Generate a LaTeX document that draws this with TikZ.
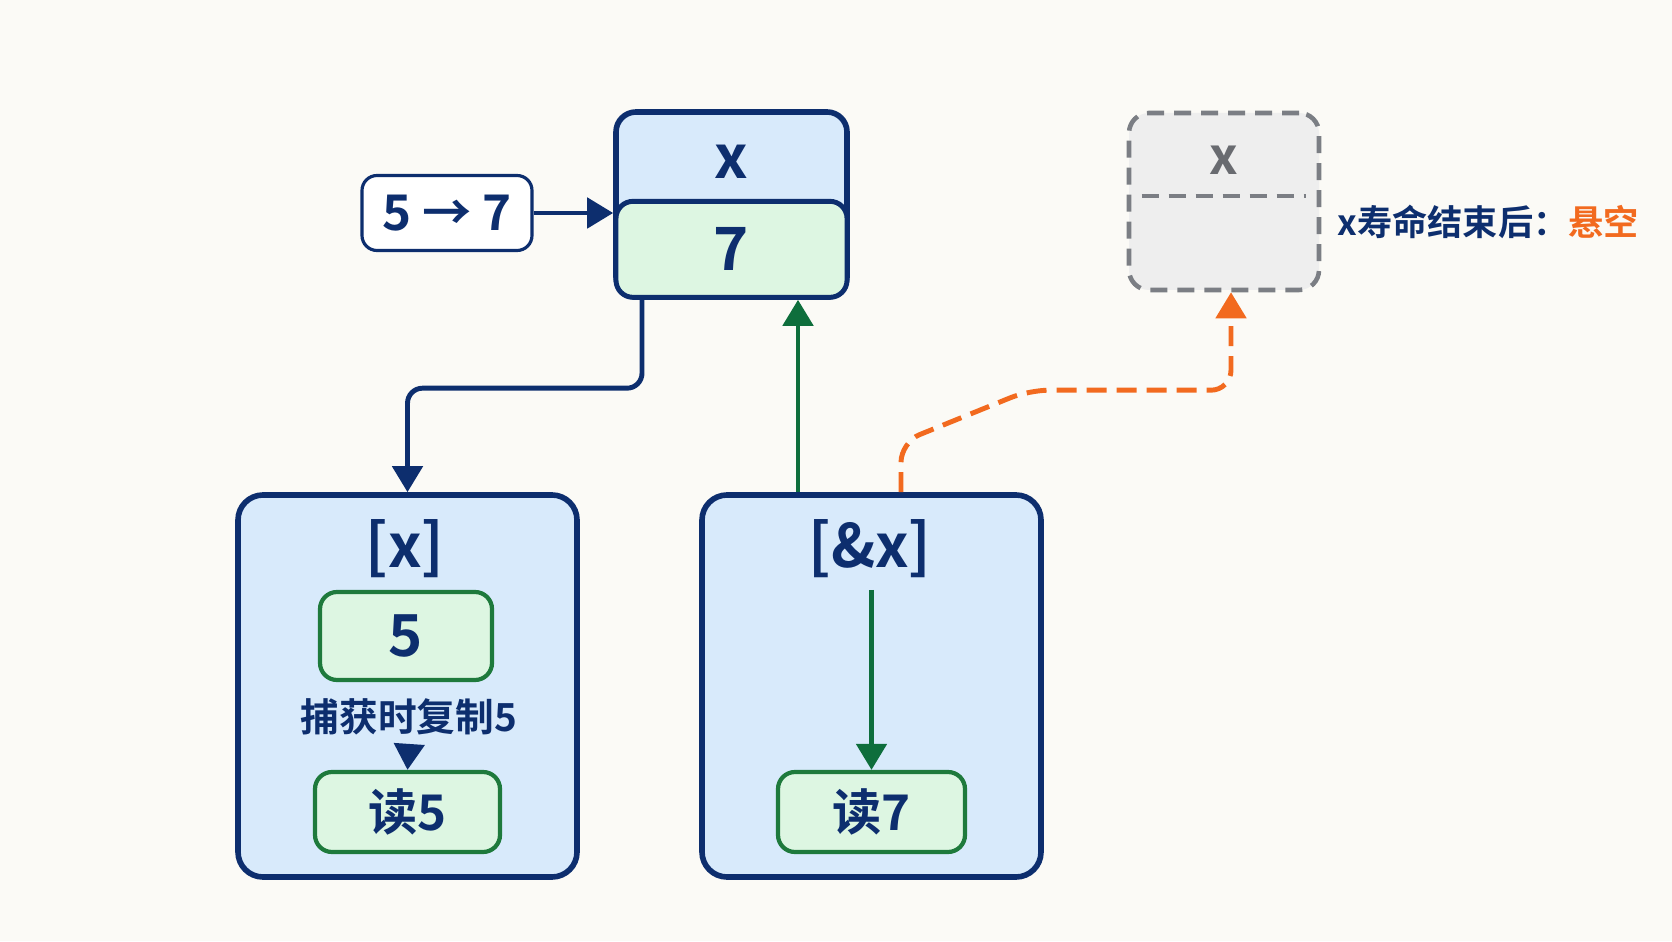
\documentclass[tikz,border=0pt]{standalone}
\usepackage{fontspec}
\setmainfont{Noto Sans CJK SC}[BoldFont={Noto Sans CJK SC Bold}]
\usetikzlibrary{arrows.meta,calc}
\definecolor{navy}{HTML}{0D2E6E}
\definecolor{boxblue}{HTML}{D8EAFB}
\definecolor{boxgreen}{HTML}{DDF6E2}
\definecolor{darkgreen}{HTML}{1E7A3C}
\definecolor{arrgreen}{HTML}{0E6E3C}
\definecolor{dangle}{HTML}{F26A1F}
\definecolor{ghostgray}{HTML}{7B7E84}
\definecolor{ghostfill}{HTML}{EEEEEE}
\definecolor{paper}{HTML}{FBFAF6}
\tikzset{
  lambox/.style={draw=navy,line width=1.6pt,fill=boxblue,rounded corners=0.25cm,minimum width=3.39cm,minimum height=3.82cm},
  valbox/.style={draw=darkgreen,line width=1.2pt,fill=boxgreen,rounded corners=0.17cm,text=navy,font=\bfseries},
  lbl/.style={text=navy,font=\bfseries},
  tip/.style={-{Triangle[length=0.26cm,width=0.3cm]}},
  navyarr/.style={tip,draw=navy,line width=1.4pt},
  greenarr/.style={tip,draw=arrgreen,line width=1.4pt},
  dangarr/.style={tip,draw=dangle,line width=1.4pt,dash pattern=on 0.2cm off 0.1cm},
  ghostline/.style={draw=ghostgray,line width=1.3pt,dash pattern=on 0.17cm off 0.1cm}
}
\newcommand{\bigtext}[1]{\fontsize{17}{20}\selectfont\bfseries #1}
\begin{document}
\begin{tikzpicture}
	\path[fill=paper] (0,0) rectangle (16.72,9.41);
	% variable x and its update
	\node[draw=navy,line width=1.6pt,fill=boxblue,rounded corners=0.2cm,minimum width=2.31cm,minimum height=1.85cm] (xcell) at (7.315,7.365) {};
	\node[valbox,draw=navy,line width=1.4pt,minimum width=2.31cm,minimum height=0.96cm,anchor=south] (xval) at (xcell.south) {\bigtext{7}};
	\node[lbl] (xname) at (7.315,7.79) {\bigtext{x}};
	\node[draw=navy,line width=0.9pt,fill=white,rounded corners=0.15cm,minimum width=1.7cm,minimum height=0.75cm,lbl,font=\fontsize{14}{16}\selectfont\bfseries] (upd) at (4.47,7.28) {5 → 7};
	\draw[navyarr] (upd.east) -- (upd.east -| xcell.west);
	% x after its lifetime
	\node[ghostline,fill=ghostfill,rounded corners=0.2cm,minimum width=1.9cm,minimum height=1.77cm] (ghost) at (12.24,7.395) {};
	\draw[ghostline] ($(ghost.west)+(0.15,0.055)$) -- ($(ghost.east)+(-0.15,0.055)$);
	\node[text=ghostgray!85!black,font=\fontsize{14.5}{16}\selectfont\bfseries] (ghostname) at (12.24,7.81) {x};
	\node[lbl,anchor=west,font=\fontsize{10}{12}\selectfont\bfseries] (dlabel) at ([xshift=0.04cm,yshift=-0.2cm]ghost.east) {x寿命结束后：\textcolor{dangle}{悬空}};
	% capture by value
	\node[lambox] (lam1) at (4.075,2.55) {};
	\node[lbl] (title1) at (4.05,3.92) {\bigtext{[x]}};
	\node[valbox,minimum width=1.72cm,minimum height=0.88cm] (val5) at (4.06,3.05) {\fontsize{16.5}{18}\selectfont 5};
	\node[lbl,font=\fontsize{11}{13}\selectfont\bfseries] (cap1) at (4.09,2.24) {捕获时复制5};
	\node[valbox,minimum width=1.85cm,minimum height=0.8cm,font=\fontsize{14}{16}\selectfont\bfseries] (read5) at (4.075,1.29) {读5};
	\draw[navyarr] (cap1.south) -- (read5.north);
	% capture by reference
	\node[lambox] (lam2) at (8.715,2.55) {};
	\node[lbl] (title2) at (8.70,3.92) {\bigtext{[\&x]}};
	\node[valbox,minimum width=1.87cm,minimum height=0.8cm,font=\fontsize{14}{16}\selectfont\bfseries] (read7) at (8.715,1.29) {读7};
	\coordinate (reftop) at (8.715,3.51);
	\draw[greenarr] (reftop) -- (read7.north);
	% connectors
	\coordinate (cpbend) at ($(lam1.north)+(0,1.04)$);
	\draw[navyarr,rounded corners=0.15cm] ([xshift=-0.895cm]xcell.south) |- (cpbend) -- (lam1.north);
	\draw[greenarr] ([xshift=-0.735cm]lam2.north) -- ([xshift=-0.735cm]lam2.north |- xcell.south);
	\draw[dangarr,rounded corners=0.2cm] ([xshift=0.295cm]lam2.north) -- ++(0,0.5) -- ++(1.28,0.52) -| ([xshift=0.07cm]ghost.south);
\end{tikzpicture}
\end{document}
